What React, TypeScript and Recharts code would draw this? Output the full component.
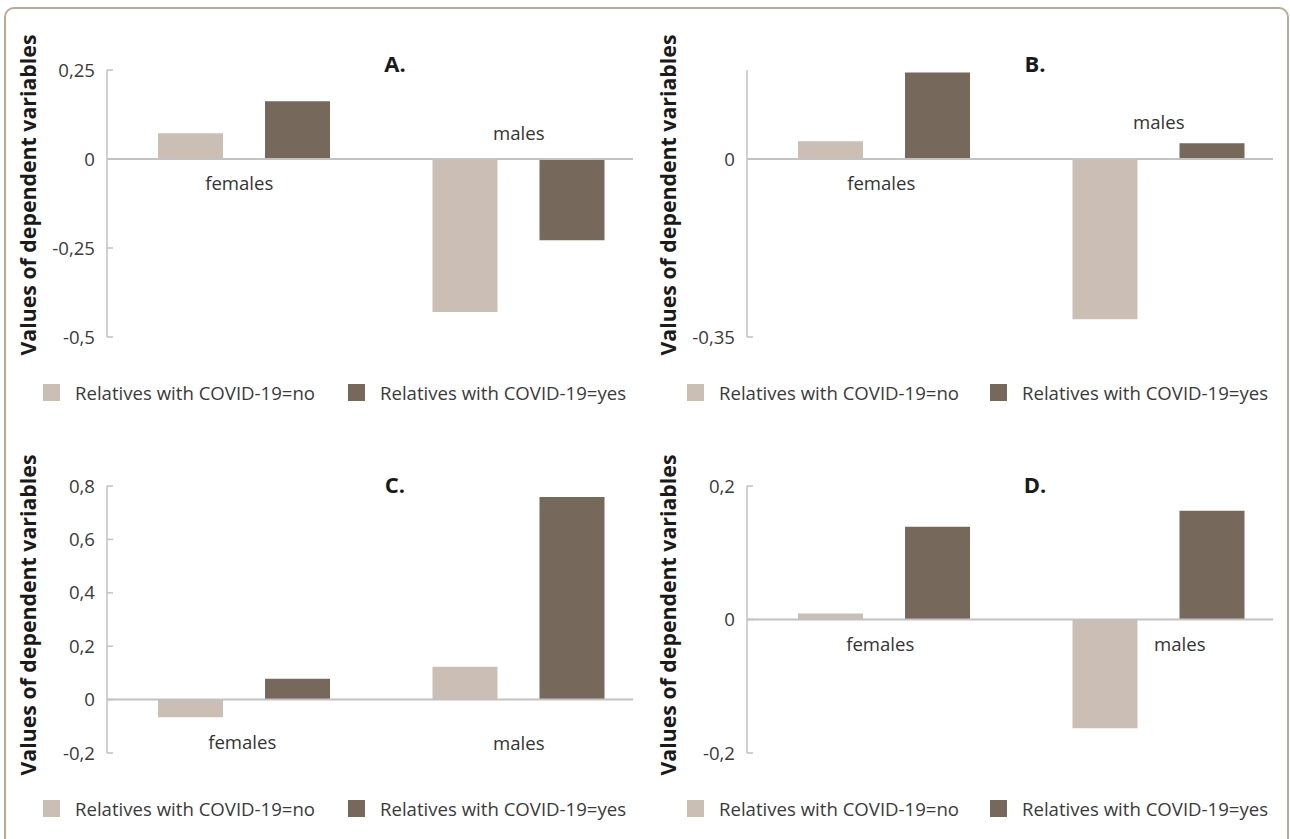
import { BarChart, Bar, XAxis, YAxis, ReferenceLine, ReferenceDot, Legend } from 'recharts';

const categories = ['females', 'males'];
const seriesNames = ['Relatives with COVID-19=no', 'Relatives with COVID-19=yes'];

// values (A-D)
const aNo = [0.072, -0.43];
const aYes = [0.162, -0.228];
const bNo = [0.035, -0.315];
const bYes = [0.17, 0.031];
const cNo = [-0.066, 0.123];
const cYes = [0.078, 0.759];
const dNo = [0.009, -0.163];
const dYes = [0.139, 0.163];

const aTicks = [-0.5, -0.25, 0, 0.25];
const bTicks = [-0.35, 0];
const cTicks = [-0.2, 0, 0.2, 0.4, 0.6, 0.8];
const dTicks = [-0.2, 0, 0.2];

const LIGHT = '#cbbfb5';
const DARK = '#76695c';
const AXIS = '#c2c2c2';
const FONT = '"Open Sans", sans-serif';
const TXT = 18.6;

type Offset = { dx: number; dy: number };

type Panel = {
  title: string;
  no: number[];
  yes: number[];
  ticks: number[];
  domain: [number, number];
  left: number;
  top: number;
  labelOffsets: Offset[];
  legendX: [number, number];
  titleY: number;
  yLabelY: number;
};

const panels: Panel[] = [
  {
    title: 'A.', no: aNo, yes: aYes, ticks: aTicks, domain: [-0.5, 0.25],
    left: 0, top: 0,
    labelOffsets: [{ dx: -5, dy: 23 }, { dx: 0, dy: -27 }],
    legendX: [43, 348], titleY: 63, yLabelY: 195,
  },
  {
    title: 'B.', no: bNo, yes: bYes, ticks: bTicks, domain: [-0.35, 0.175],
    left: 640, top: 0,
    labelOffsets: [{ dx: -3, dy: 23 }, { dx: 0, dy: -38 }],
    legendX: [47, 350], titleY: 63, yLabelY: 195,
  },
  {
    title: 'C.', no: cNo, yes: cYes, ticks: cTicks, domain: [-0.2, 0.8],
    left: 0, top: 416,
    labelOffsets: [{ dx: -2, dy: 42 }, { dx: 0, dy: 43 }],
    legendX: [43, 348], titleY: 68, yLabelY: 199,
  },
  {
    title: 'D.', no: dNo, yes: dYes, ticks: dTicks, domain: [-0.2, 0.2],
    left: 640, top: 416,
    labelOffsets: [{ dx: -4, dy: 24 }, { dx: 21, dy: 24 }],
    legendX: [47, 350], titleY: 68, yLabelY: 199,
  },
];

const fmt = (v: number) => String(v).replace('.', ',');

const catLabel = (text: string, off: Offset) => (props: any) => {
  const vb = props.viewBox || {};
  const x = (vb.x ?? 0) + (vb.width ?? 0) / 2 + off.dx;
  const y = (vb.y ?? 0) + (vb.height ?? 0) / 2 + off.dy;
  return (
    <text x={x} y={y} textAnchor="middle" dominantBaseline="central" fontSize={TXT} fill="#333" fontFamily={FONT}>
      {text}
    </text>
  );
};

const legendContent = (xs: [number, number]) => (props: any) => {
  const payload = props.payload || [];
  return (
    <div style={{ position: 'relative', width: 640, height: 34 }}>
      {payload.map((e: any, i: number) => (
        <div
          key={e.value}
          style={{ position: 'absolute', left: xs[i], top: 0, height: 34, display: 'flex', alignItems: 'center' }}
        >
          <span style={{ display: 'inline-block', width: 17, height: 17, background: e.color }} />
          <span style={{ marginLeft: 15, fontSize: TXT, color: '#3a3a3a', whiteSpace: 'nowrap', fontFamily: FONT }}>
            {e.value}
          </span>
        </div>
      ))}
    </div>
  );
};

function PanelChart({ p }: { p: Panel }) {
  const data = categories.map((cat, i) => ({ cat, no: p.no[i], yes: p.yes[i] }));
  return (
    <div style={{ position: 'absolute', left: p.left, top: p.top, width: 640, height: 420 }}>
      <BarChart
        width={640}
        height={420}
        data={data}
        margin={{ top: 70, right: 7, bottom: 83, left: 47 }}
        barGap={42}
      >
        <XAxis dataKey="cat" hide padding={{ left: 0, right: -23 }} />
        <YAxis
          type="number"
          domain={p.domain}
          ticks={p.ticks}
          interval={0}
          allowDataOverflow
          width={60}
          tickSize={-6}
          tickMargin={18}
          tickFormatter={fmt}
          axisLine={{ stroke: AXIS, strokeWidth: 1.5 }}
          tickLine={{ stroke: AXIS, strokeWidth: 1.5 }}
          tick={{ fill: '#3a3a3a', fontSize: TXT, fontFamily: FONT }}
        />
        <ReferenceLine y={0} stroke={AXIS} strokeWidth={2} />
        <Bar dataKey="no" name={seriesNames[0]} fill={LIGHT} barSize={65} isAnimationActive={false} />
        <Bar dataKey="yes" name={seriesNames[1]} fill={DARK} barSize={65} isAnimationActive={false} />
        {categories.map((cat, i) => (
          <ReferenceDot
            key={cat}
            x={cat}
            y={0}
            r={0}
            fill="none"
            stroke="none"
            label={catLabel(cat, p.labelOffsets[i])}
          />
        ))}
        <Legend
          layout="horizontal"
          verticalAlign="middle"
          align="center"
          wrapperStyle={{ left: 0, top: 375, width: 640 }}
          content={legendContent(p.legendX)}
        />
      </BarChart>
      <div
        style={{
          position: 'absolute', left: 395, top: p.titleY, transform: 'translate(-50%, -50%)',
          fontFamily: FONT, fontWeight: 700, fontSize: 22, lineHeight: '22px', color: '#1a1a1a',
        }}
      >
        {p.title}
      </div>
      <div
        style={{
          position: 'absolute', left: 28, top: p.yLabelY, transform: 'translate(-50%, -50%) rotate(-90deg)',
          fontFamily: FONT, fontWeight: 700, fontSize: 21.3, lineHeight: '22px', color: '#1a1a1a', whiteSpace: 'nowrap',
        }}
      >
        Values of dependent variables
      </div>
    </div>
  );
}

export default function App() {
  return (
    <div
      style={{
        position: 'fixed', left: 0, top: 0, width: 1290, height: 839, overflow: 'hidden',
        background: '#fff', fontFamily: FONT,
      }}
    >
      <div
        style={{
          position: 'absolute', left: 4, top: 7, width: 1285, height: 900, boxSizing: 'border-box',
          border: '2px solid #b9a999', borderRadius: 10,
        }}
      />
      {panels.map((p) => (
        <PanelChart key={p.title} p={p} />
      ))}
    </div>
  );
}
